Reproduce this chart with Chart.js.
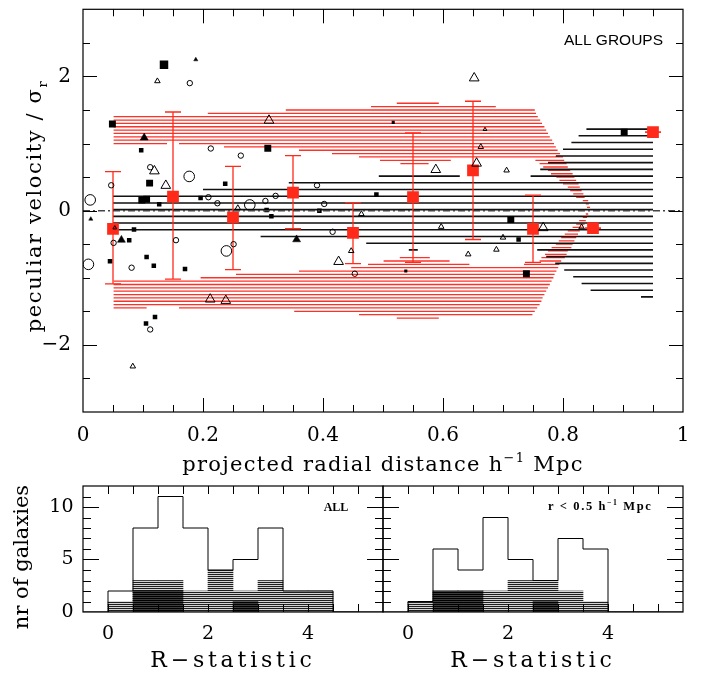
<!DOCTYPE html>
<html>
<head>
<meta charset="utf-8">
<title>Peculiar velocity vs projected radial distance</title>
<script src="https://cdn.jsdelivr.net/npm/chart.js@4.4.1/dist/chart.umd.min.js"></script>
<style>
  html, body { margin: 0; padding: 0; background: #ffffff; }
  #wrap { position: relative; width: 710px; height: 675px; overflow: hidden; background: #fff; }
  #wrap canvas { position: absolute; }
</style>
</head>
<body>
<div id="wrap">
  <canvas id="mainChart" width="710" height="480" style="left:0;top:0;width:710px;height:480px"></canvas>
  <canvas id="histAll" width="385" height="195" style="left:0;top:480px;width:385px;height:195px"></canvas>
  <canvas id="histInner" width="329" height="195" style="left:381px;top:480px;width:329px;height:195px"></canvas>
</div>
<script>
// ================= DATA =================
// main panel axis ticks
const xTickValues = [0, 0.2, 0.4, 0.6, 0.8, 1];
const yTickValues = [-2, 0, 2];

// binned means (red squares) with error bars
const binCentre = [0.05, 0.15, 0.25, 0.35, 0.45, 0.55, 0.65, 0.75, 0.85, 0.95];
const binMean   = [-0.27, 0.21, -0.10, 0.27, -0.33, 0.20, 0.60, -0.27, -0.26, 1.17];
const binLow    = [-1.09, -1.02, -0.88, -0.27, -0.79, -0.77, -0.43, -0.77, -0.26, 1.17];
const binHigh   = [0.58, 1.47, 0.66, 0.82, 0.12, 1.16, 1.63, 0.23, -0.26, 1.17];

// individual galaxies: open circles
const circleX = [0.178, 0.213, 0.263, 0.112, 0.177, 0.047, 0.390, 0.012, 0.209, 0.224, 0.321, 0.304, 0.278, 0.402, 0.051, 0.155, 0.251, 0.239, 0.009, 0.081, 0.112, 0.416, 0.453];
const circleY = [1.90, 0.926, 0.82, 0.647, 0.51, 0.378, 0.378, 0.16, 0.20, 0.11, 0.22, 0.144, 0.085, 0.10, -0.48, -0.44, -0.50, -0.60, -0.80, -0.85, -1.77, -0.315, -0.94];
const circleMag = [1, 1, 1, 1, 2, 1, 1, 2, 1, 1, 1, 1, 2, 1, 1, 1, 1, 2, 2, 1, 1, 1, 1];

// filled squares
const squareX = [0.135, 0.049, 0.097, 0.308, 0.111, 0.237, 0.098, 0.106, 0.196, 0.127, 0.306, 0.394, 0.489, 0.085, 0.077, 0.045, 0.106, 0.118, 0.170, 0.120, 0.105, 0.314, 0.517, 0.538, 0.713, 0.726, 0.739, 0.902];
const squareY = [2.175, 1.29, 0.90, 0.93, 0.41, 0.40, 0.16, 0.17, 0.19, 0.095, 0.01, 0.00, 0.24, -0.28, -0.44, -0.755, -0.69, -0.82, -0.87, -1.585, -1.68, -0.085, 1.316, -0.90, -0.134, -0.43, -0.94, 1.17];
const squareMag = [4, 3, 2, 3, 3, 2, 3, 3, 2, 2, 2, 2, 2, 2, 2, 2, 2, 2, 2, 2, 2, 2, 1, 1, 3, 2, 3, 3];

// open triangles
const triX = [0.124, 0.310, 0.119, 0.138, 0.258, 0.053, 0.212, 0.238, 0.083, 0.464, 0.447, 0.426, 0.652, 0.670, 0.663, 0.588, 0.656, 0.706, 0.597, 0.642, 0.767, 0.700, 0.689, 0.831];
const triY = [1.93, 1.345, 0.59, 0.374, 0.04, -0.256, -1.32, -1.34, -2.32, -0.05, -0.60, -0.76, 1.975, 1.21, 0.95, 0.61, 0.705, 0.60, -0.24, -0.65, -0.256, -0.40, -0.58, -0.246];
const triMag = [2, 3, 3, 3, 2, 1, 3, 3, 2, 2, 2, 3, 3, 1, 2, 3, 3, 2, 2, 2, 3, 2, 2, 2];

// filled triangles
const ftriX = [0.188, 0.102, 0.013, 0.064, 0.356];
const ftriY = [2.25, 1.087, -0.125, -0.437, -0.43];
const ftriMag = [1, 2, 1, 2, 2];

// red hatched envelope: rows [velocity, r_start, r_end]
const redHatch = [
  [1.60,0.523,0.593],[1.55,0.480,0.688],[1.50,0.338,0.753],[1.45,0.208,0.755],
  [1.40,0.051,0.758],[1.35,0.051,0.762],[1.30,0.051,0.765],[1.25,0.051,0.769],
  [1.20,0.051,0.772],[1.15,0.051,0.775],[1.10,0.051,0.778],[1.05,0.051,0.782],
  [1.00,0.051,0.140],[1.00,0.160,0.785],[0.95,0.235,0.788],[0.90,0.360,0.791],
  [0.85,0.415,0.795],[0.80,0.460,0.800],[0.75,0.495,0.613],[0.75,0.754,0.802],
  [0.70,0.529,0.576],[0.70,0.761,0.806],[0.65,0.767,0.808],[0.60,0.775,0.812],
  [0.55,0.780,0.816],[0.50,0.789,0.819],[0.45,0.794,0.822],[0.40,0.800,0.826],
  [0.35,0.808,0.828],[0.30,0.812,0.831],[0.25,0.817,0.834],[0.20,0.822,0.836],
  [0.15,0.833,0.842],[0.10,0.838,0.843],[0.05,0.840,0.845],[-0.05,0.838,0.842],
  [-0.10,0.833,0.840],[-0.15,0.827,0.838],[-0.20,0.822,0.836],[-0.25,0.816,0.833],
  [-0.30,0.808,0.828],[-0.35,0.803,0.825],[-0.40,0.797,0.822],[-0.45,0.793,0.819],
  [-0.50,0.788,0.816],[-0.55,0.781,0.814],[-0.60,0.775,0.808],[-0.65,0.770,0.806],
  [-0.70,0.528,0.578],[-0.70,0.764,0.803],[-0.75,0.501,0.611],[-0.75,0.761,0.797],
  [-0.80,0.475,0.644],[-0.80,0.735,0.794],[-0.85,0.447,0.792],[-0.90,0.360,0.789],
  [-0.95,0.255,0.786],[-1.00,0.196,0.784],[-1.05,0.051,0.781],[-1.10,0.051,0.778],
  [-1.15,0.051,0.775],[-1.20,0.051,0.772],[-1.25,0.051,0.769],[-1.30,0.051,0.766],
  [-1.35,0.051,0.764],[-1.40,0.051,0.761],[-1.45,0.051,0.106],[-1.45,0.160,0.757],
  [-1.50,0.352,0.753],[-1.55,0.460,0.749],[-1.60,0.523,0.593]
];

// black hatched envelope: rows [velocity, r_start, r_end]
const blackHatch = [
  [1.215,0.839,0.95],[1.115,0.826,0.95],[1.015,0.814,0.95],[0.915,0.800,0.95],
  [0.815,0.788,0.95],[0.715,0.775,0.95],[0.615,0.762,0.95],[0.515,0.493,0.628],
  [0.515,0.746,0.95],[0.415,0.343,0.95],[0.315,0.200,0.95],[0.215,0.050,0.95],
  [0.115,0.050,0.95],[0.015,0.050,0.95],[-0.085,0.050,0.95],[-0.185,0.050,0.95],
  [-0.285,0.050,0.95],[-0.385,0.296,0.95],[-0.485,0.472,0.95],[-0.585,0.543,0.558],
  [-0.585,0.757,0.95],[-0.685,0.772,0.95],[-0.785,0.787,0.95],[-0.885,0.802,0.95],
  [-0.985,0.817,0.95],[-1.085,0.831,0.95],[-1.185,0.846,0.95],[-1.285,0.930,0.95]
];

// histograms of the R-statistic
const rBinLeft = [0, 0.5, 1, 1.5, 2, 2.5, 3, 3.5, 4, 4.5];
const allTotal    = [2, 8, 11, 8, 4, 5, 8, 2, 2, 0];
const allHatched  = [1, 3, 3, 2, 4, 2, 3, 2, 2, 0];
const allSolid    = [0, 2, 2, 0, 0, 1, 0, 0, 0, 0];
const innerTotal   = [1, 6, 4, 9, 5, 3, 7, 6, 0, 0];
const innerHatched = [1, 2, 2, 2, 3, 3, 2, 1, 0, 0];
const innerSolid   = [0, 2, 2, 0, 0, 1, 0, 0, 0, 0];
const rTickValues = [0, 2, 4];
const countTickValues = [0, 5, 10];

// ================= STYLE =================
const RED = '#ff2a1a';
const SERIF = "'DejaVu Serif', serif";
const circleR = {1: 2.7, 2: 5.3};
const squareR = {1: 2.2, 2: 3.2, 3: 4.9, 4: 6.0};
const triR = {1: 2.2, 2: 3.2, 3: 5.6};
const ftriR = {1: 2.4, 2: 4.6};

Chart.defaults.font.family = SERIF;
Chart.defaults.color = '#000';

const fmt = v => String(v).replace('-', '\u2212');

function segments(rows) {
  const out = [];
  rows.forEach(([y, x1, x2]) => { out.push({x: x1, y}, {x: x2, y}, {x: null, y: null}); });
  return out;
}
function pts(xs, ys) { return xs.map((x, i) => ({x, y: ys[i]})); }

function isMultiple(v, step) {
  if (!step) return false;
  const q = v / step;
  return Math.abs(q - Math.round(q)) < 1e-6;
}
function noPad(s) { s.paddingTop = 0; s.paddingBottom = 0; s.paddingLeft = 0; s.paddingRight = 0; }

// frame + inward ticks on all four sides
const framePlugin = {
  id: 'frame',
  afterDatasetsDraw(chart, args, o) {
    const {ctx, chartArea: a} = chart;
    const xs = chart.scales.x, ys = chart.scales.y;
    ctx.save();
    ctx.strokeStyle = '#000';
    ctx.lineWidth = 1;
    ctx.beginPath();
    const nx = Math.round((xs.max - xs.min) / o.xStep);
    for (let i = 1; i < nx; i++) {
      const v = xs.min + i * o.xStep;
      const px = Math.round(xs.getPixelForValue(v)) + 0.5;
      const L = isMultiple(v, o.xMajor) ? o.xMajorLen : o.xMinorLen;
      ctx.moveTo(px, a.bottom); ctx.lineTo(px, a.bottom - L);
      ctx.moveTo(px, a.top); ctx.lineTo(px, a.top + L);
    }
    const ny = Math.round((ys.max - ys.min) / o.yStep);
    for (let i = 1; i < ny; i++) {
      const v = ys.min + i * o.yStep;
      const py = Math.round(ys.getPixelForValue(v)) + 0.5;
      const L = isMultiple(v, o.yMajor) ? o.yMajorLen : o.yMinorLen;
      ctx.moveTo(a.left, py); ctx.lineTo(a.left + L, py);
      ctx.moveTo(a.right, py); ctx.lineTo(a.right - L, py);
    }
    ctx.stroke();
    ctx.lineWidth = o.lw;
    ctx.strokeRect(a.left, a.top, a.right - a.left, a.bottom - a.top);
    ctx.restore();
  }
};

// text with sub/superscripts
function richText(ctx, parts, x, y, size, opt) {
  opt = opt || {};
  const family = opt.family || SERIF;
  const weight = opt.bold ? 'bold ' : '';
  ctx.save();
  ctx.translate(x, y);
  if (opt.rot) ctx.rotate(opt.rot);
  ctx.letterSpacing = (opt.spacing || 0) + 'px';
  ctx.fillStyle = '#000';
  ctx.textBaseline = 'alphabetic';
  ctx.textAlign = 'left';
  let w = 0;
  const m = parts.map(p => {
    const s = (p.sub || p.sup) ? size * 0.62 : size;
    ctx.font = weight + s + 'px ' + family;
    const pw = ctx.measureText(p.t).width;
    w += pw;
    return {p, s, pw};
  });
  let cx = opt.align === 'center' ? -w / 2 : (opt.align === 'right' ? -w : 0);
  m.forEach(({p, s, pw}) => {
    ctx.font = weight + s + 'px ' + family;
    const dy = p.sub ? size * 0.28 : (p.sup ? -size * 0.42 : 0);
    ctx.fillText(p.t, cx, dy);
    cx += pw;
  });
  ctx.restore();
}

function hatchPattern(lineCol, gapCol, h) {
  const cv = document.createElement('canvas');
  cv.width = 4; cv.height = h;
  const g = cv.getContext('2d');
  g.fillStyle = gapCol; g.fillRect(0, 0, 4, h);
  g.fillStyle = lineCol; g.fillRect(0, 0, 4, 1);
  return g.createPattern(cv, 'repeat');
}

// ================= MAIN PANEL =================
const errSegments = [];
binCentre.forEach((c, i) => { errSegments.push({x: c, y: binLow[i]}, {x: c, y: binHigh[i]}, {x: null, y: null}); });
const capPoints = binCentre.flatMap((c, i) => [{x: c, y: binLow[i]}, {x: c, y: binHigh[i]}]);

const mainText = {
  id: 'mainText',
  afterDraw(chart) {
    const {ctx, chartArea: a} = chart;
    richText(ctx, [{t: 'projected radial distance h'}, {t: '\u22121', sup: true}, {t: ' Mpc'}],
      (a.left + a.right) / 2, 471, 21, {align: 'center', spacing: 1.3});
    richText(ctx, [{t: 'peculiar velocity / \u03c3'}, {t: 'r', sub: true}],
      41, 206, 21, {align: 'center', rot: -Math.PI / 2, spacing: 1.6});
    richText(ctx, [{t: 'ALL GROUPS'}], 663, 45, 15.5, {align: 'right', family: "'Liberation Sans', Arial, sans-serif"});
  }
};

new Chart(document.getElementById('mainChart'), {
  type: 'scatter',
  data: {
    datasets: [
      { type: 'line', label: 'zero', data: [{x: 0, y: 0}, {x: 1, y: 0}], borderColor: '#444', borderWidth: 1.5,
        borderDash: [7, 3, 2, 3], pointRadius: 0, order: 0 },
      { label: 'open circles', data: pts(circleX, circleY), pointStyle: 'circle',
        pointRadius: circleMag.map(s => circleR[s]), borderColor: '#000', backgroundColor: 'rgba(0,0,0,0)',
        pointBorderColor: '#000', pointBackgroundColor: 'rgba(0,0,0,0)', pointBorderWidth: 1, order: 1 },
      { label: 'filled squares', data: pts(squareX, squareY), pointStyle: 'rect',
        pointRadius: squareMag.map(s => squareR[s]), borderColor: '#000', backgroundColor: '#000',
        pointBorderColor: '#000', pointBackgroundColor: '#000', pointBorderWidth: 0, order: 1 },
      { label: 'open triangles', data: pts(triX, triY), pointStyle: 'triangle',
        pointRadius: triMag.map(s => triR[s]), borderColor: '#000', backgroundColor: 'rgba(0,0,0,0)',
        pointBorderColor: '#000', pointBackgroundColor: 'rgba(0,0,0,0)', pointBorderWidth: 1, order: 1 },
      { label: 'filled triangles', data: pts(ftriX, ftriY), pointStyle: 'triangle',
        pointRadius: ftriMag.map(s => ftriR[s]), borderColor: '#000', backgroundColor: '#000',
        pointBorderColor: '#000', pointBackgroundColor: '#000', pointBorderWidth: 0.5, order: 1 },
      { label: 'bin means', data: pts(binCentre, binMean), pointStyle: 'rect', pointRadius: 8.3,
        borderColor: RED, backgroundColor: RED, pointBorderColor: RED, pointBackgroundColor: RED,
        pointBorderWidth: 0, order: 2 },
      { label: 'error caps', data: capPoints, pointStyle: 'line', pointRadius: 8,
        borderColor: RED, pointBorderColor: RED, pointBorderWidth: 1.3, order: 3 },
      { type: 'line', label: 'error bars', data: errSegments, borderColor: RED, borderWidth: 1.3,
        pointRadius: 0, spanGaps: false, order: 3 },
      { type: 'line', label: 'black envelope', data: segments(blackHatch), borderColor: '#111', borderWidth: 1.6,
        pointRadius: 0, spanGaps: false, order: 4 },
      { type: 'line', label: 'red envelope', data: segments(redHatch), borderColor: 'rgba(255,30,20,0.92)',
        borderWidth: 1.3, pointRadius: 0, spanGaps: false, order: 5 }
    ]
  },
  options: {
    responsive: false, animation: false, devicePixelRatio: 1, events: [],
    layout: { padding: { top: 3, right: 27, left: 0, bottom: 0 } },
    plugins: {
      legend: { display: false }, tooltip: { enabled: false },
      frame: { xStep: 0.05, xMajor: 0.2, yStep: 0.5, yMajor: 2, xMajorLen: 14, xMinorLen: 7,
               yMajorLen: 14, yMinorLen: 7, lw: 1.2 }
    },
    scales: {
      x: { type: 'linear', min: 0, max: 1, position: 'bottom',
           afterBuildTicks: s => { s.ticks = xTickValues.map(v => ({value: v})); },
           afterFit: s => { s.height = 68; noPad(s); },
           grid: { display: false, drawTicks: false }, border: { display: false },
           ticks: { padding: 12, autoSkip: false, maxRotation: 0, font: { size: 20, family: SERIF }, color: '#000', callback: v => fmt(v) } },
      y: { type: 'linear', min: -3, max: 3,
           afterBuildTicks: s => { s.ticks = yTickValues.map(v => ({value: v})); },
           afterFit: s => { s.width = 83; noPad(s); },
           grid: { display: false, drawTicks: false }, border: { display: false },
           ticks: { padding: 12, autoSkip: false, font: { size: 20, family: SERIF }, color: '#000', callback: v => fmt(v) } }
    }
  },
  plugins: [framePlugin, mainText]
});

// ================= HISTOGRAMS =================
const greyHatch = hatchPattern('#1e1e1e', '#d2d2d2', 2);
const darkHatch = hatchPattern('#000000', '#3c3c3c', 2);

function histConfig(total, hatched, solid, showY, padding, textFn) {
  const centres = rBinLeft.map(l => l + 0.25);
  const outline = [{x: -0.5, y: 0}].concat(rBinLeft.map((l, i) => ({x: l, y: total[i]})), [{x: 5, y: 0}, {x: 5.5, y: 0}]);
  return {
    type: 'bar',
    data: {
      datasets: [
        { type: 'line', label: 'all', data: outline, stepped: 'before', borderColor: '#000', borderWidth: 1,
          pointRadius: 0, fill: false, order: 1 },
        { label: 'solid', data: pts(centres, solid), backgroundColor: darkHatch, borderWidth: 0,
          grouped: false, barPercentage: 1, categoryPercentage: 1, order: 2 },
        { label: 'hatched', data: pts(centres, hatched), backgroundColor: greyHatch, borderWidth: 0,
          grouped: false, barPercentage: 1, categoryPercentage: 1, order: 3 }
      ]
    },
    options: {
      responsive: false, animation: false, devicePixelRatio: 1, events: [],
      layout: { padding: padding },
      plugins: {
        legend: { display: false }, tooltip: { enabled: false },
        frame: { xStep: 0.5, xMajor: 0, yStep: 1, yMajor: 5, xMajorLen: 8, xMinorLen: 8,
                 yMajorLen: 16, yMinorLen: 8, lw: 1.2 }
      },
      scales: {
        x: { type: 'linear', min: -0.5, max: 5.5, offset: false, position: 'bottom',
             afterBuildTicks: s => { s.ticks = rTickValues.map(v => ({value: v})); },
             afterFit: s => { s.height = 63; noPad(s); },
             grid: { display: false, drawTicks: false }, border: { display: false },
             ticks: { padding: 11, autoSkip: false, maxRotation: 0, font: { size: 19, family: SERIF }, color: '#000' } },
        y: { type: 'linear', min: 0, max: 12, display: showY,
             afterBuildTicks: s => { s.ticks = countTickValues.map(v => ({value: v})); },
             afterFit: s => { s.width = showY ? 83 : 0; noPad(s); },
             grid: { display: false, drawTicks: false }, border: { display: false },
             ticks: { padding: 9.5, autoSkip: false, font: { size: 19, family: SERIF }, color: '#000' } }
      }
    },
    plugins: [framePlugin, { id: 'histText', afterDraw: textFn }]
  };
}

new Chart(document.getElementById('histAll'), histConfig(allTotal, allHatched, allSolid, true,
  { top: 6, right: 2, left: 0, bottom: 0 },
  chart => {
    const {ctx, chartArea: a} = chart;
    richText(ctx, [{t: 'R\u2212statistic'}], (a.left + a.right) / 2, 187, 22, {align: 'center', spacing: 3.8});
    richText(ctx, [{t: 'nr of galaxies'}], 28, 77, 21, {align: 'center', rot: -Math.PI / 2});
    richText(ctx, [{t: 'ALL'}], 336, 31, 12, {align: 'center', bold: true, family: "'Liberation Serif', serif"});
  }));

new Chart(document.getElementById('histInner'), histConfig(innerTotal, innerHatched, innerSolid, false,
  { top: 6, right: 27, left: 2, bottom: 0 },
  chart => {
    const {ctx, chartArea: a} = chart;
    richText(ctx, [{t: 'R\u2212statistic'}], (a.left + a.right) / 2, 187, 22, {align: 'center', spacing: 3.8});
    richText(ctx, [{t: 'r < 0.5 h'}, {t: '\u22121', sup: true}, {t: ' Mpc'}], 167, 30, 12.5,
      {bold: true, spacing: 1.6, family: "'Liberation Serif', serif"});
  }));
</script>
</body>
</html>
